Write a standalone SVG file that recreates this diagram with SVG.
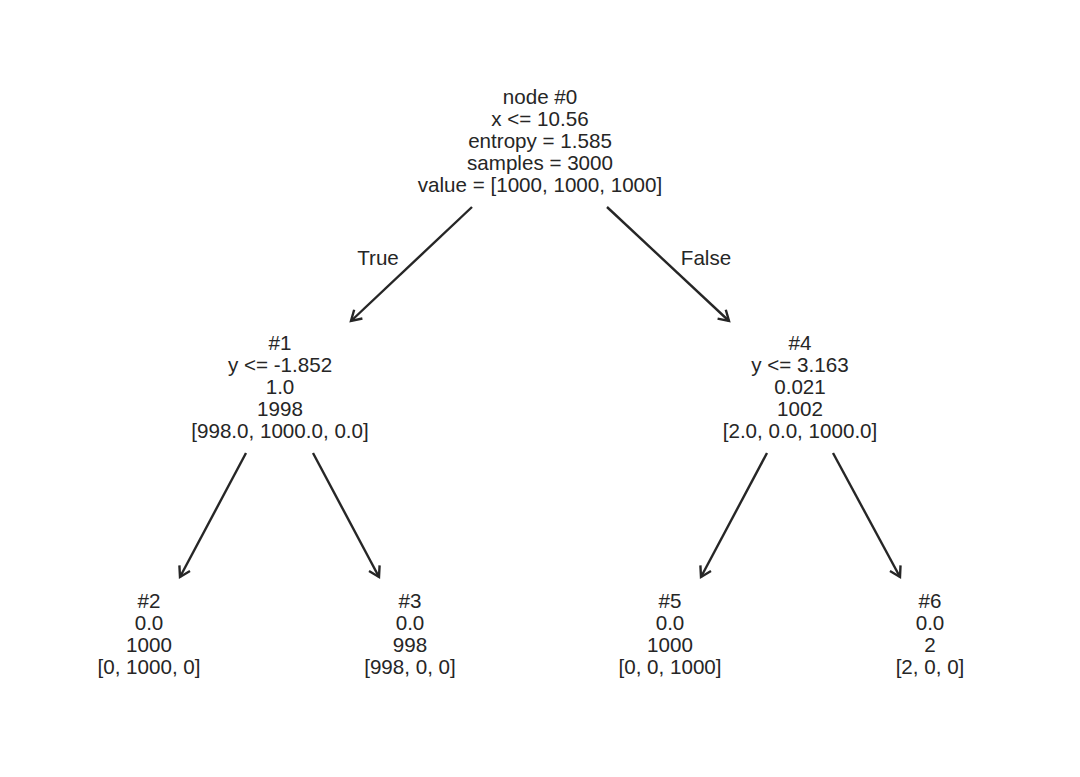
<svg xmlns="http://www.w3.org/2000/svg" width="1080" height="777" viewBox="0 0 1080 777">
<style>
text{font-family:"Liberation Sans",Arial,sans-serif;font-size:20.6px;fill:#262626;text-anchor:middle}
.e{stroke:#262626;stroke-width:2.4;fill:none}
</style>
<defs>
<marker id="ah" markerUnits="userSpaceOnUse" markerWidth="24" markerHeight="24" viewBox="-12 -12 24 24" refX="0" refY="0" orient="auto">
<path d="M-10,-6 L0,0 L-10,6" fill="none" stroke="#262626" stroke-width="2.4" stroke-linejoin="miter"/>
</marker>
</defs>
<rect width="1080" height="777" fill="#ffffff"/>
<g id="edges">
<line class="e" x1="472" y1="207" x2="351" y2="321" marker-end="url(#ah)"/>
<line class="e" x1="607" y1="207" x2="729" y2="321" marker-end="url(#ah)"/>
<line class="e" x1="246" y1="453" x2="180" y2="577" marker-end="url(#ah)"/>
<line class="e" x1="313" y1="453" x2="379" y2="577" marker-end="url(#ah)"/>
<line class="e" x1="767" y1="453" x2="701" y2="577" marker-end="url(#ah)"/>
<line class="e" x1="833" y1="453" x2="900" y2="577" marker-end="url(#ah)"/>
<text x="378" y="265">True</text>
<text x="706" y="265">False</text>
</g>
<g id="node0">
<text x="540" y="104">node #0</text>
<text x="540" y="126">x &lt;= 10.56</text>
<text x="540" y="148">entropy = 1.585</text>
<text x="540" y="170">samples = 3000</text>
<text x="540" y="192">value = [1000, 1000, 1000]</text>
</g>
<g id="node1">
<text x="280" y="350">#1</text>
<text x="280" y="372">y &lt;= -1.852</text>
<text x="280" y="394">1.0</text>
<text x="280" y="416">1998</text>
<text x="280" y="438">[998.0, 1000.0, 0.0]</text>
</g>
<g id="node4">
<text x="800" y="350">#4</text>
<text x="800" y="372">y &lt;= 3.163</text>
<text x="800" y="394">0.021</text>
<text x="800" y="416">1002</text>
<text x="800" y="438">[2.0, 0.0, 1000.0]</text>
</g>
<g id="node2">
<text x="149" y="608">#2</text>
<text x="149" y="630">0.0</text>
<text x="149" y="652">1000</text>
<text x="149" y="674">[0, 1000, 0]</text>
</g>
<g id="node3">
<text x="410" y="608">#3</text>
<text x="410" y="630">0.0</text>
<text x="410" y="652">998</text>
<text x="410" y="674">[998, 0, 0]</text>
</g>
<g id="node5">
<text x="670" y="608">#5</text>
<text x="670" y="630">0.0</text>
<text x="670" y="652">1000</text>
<text x="670" y="674">[0, 0, 1000]</text>
</g>
<g id="node6">
<text x="930" y="608">#6</text>
<text x="930" y="630">0.0</text>
<text x="930" y="652">2</text>
<text x="930" y="674">[2, 0, 0]</text>
</g>
</svg>
